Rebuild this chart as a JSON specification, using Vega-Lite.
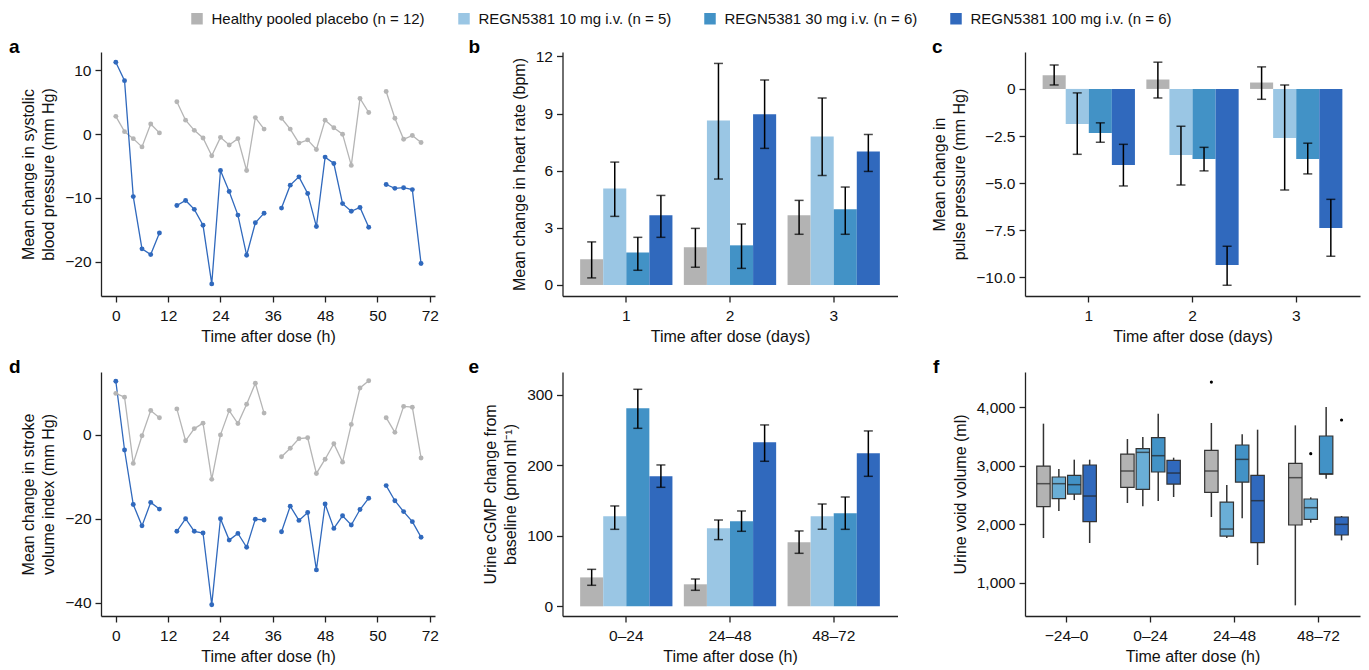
{
"$schema":"https://vega.github.io/schema/vega-lite/v6.json",
"padding":{"left":9,"top":11,"right":4,"bottom":4},
"config":{
 "font":"Liberation Sans",
 "view":{"stroke":null},
 "axis":{"grid":false,"domainColor":"#222","domainWidth":1.3,"tickColor":"#222","tickWidth":1.3,"tickSize":6,"labelFontSize":15.5,"labelColor":"#111","labelPadding":4,"titleFontSize":16,"titleFontWeight":"normal","titleColor":"#111","titlePadding":8,"titleLineHeight":20,"labelFont":"Liberation Sans","titleFont":"Liberation Sans"},
 "axisX":{"labelAngle":0,"titlePadding":4.5,"labelPadding":6.5},
 "title":{"fontSize":19,"fontWeight":"bold","anchor":"start","frame":"group","offset":0,"baseline":"alphabetic","color":"#000","font":"Liberation Sans"}
},
"datasets":{
 "sbp":[
  {"t":0,"v":2.8,"g":"placebo","s":1},{"t":2,"v":0.4,"g":"placebo","s":1},{"t":4,"v":-0.7,"g":"placebo","s":1},{"t":6,"v":-2.0,"g":"placebo","s":1},{"t":8,"v":1.6,"g":"placebo","s":1},{"t":10,"v":0.2,"g":"placebo","s":1},
  {"t":14,"v":5.1,"g":"placebo","s":2},{"t":16,"v":2.2,"g":"placebo","s":2},{"t":18,"v":0.6,"g":"placebo","s":2},{"t":20,"v":-0.6,"g":"placebo","s":2},{"t":22,"v":-3.4,"g":"placebo","s":2},{"t":24,"v":-0.5,"g":"placebo","s":2},{"t":26,"v":-1.7,"g":"placebo","s":2},{"t":28,"v":-0.7,"g":"placebo","s":2},{"t":30,"v":-5.7,"g":"placebo","s":2},{"t":32,"v":2.6,"g":"placebo","s":2},{"t":34,"v":0.8,"g":"placebo","s":2},
  {"t":38,"v":2.5,"g":"placebo","s":3},{"t":40,"v":0.8,"g":"placebo","s":3},{"t":42,"v":-1.4,"g":"placebo","s":3},{"t":44,"v":-0.9,"g":"placebo","s":3},{"t":46,"v":-2.4,"g":"placebo","s":3},{"t":48,"v":2.2,"g":"placebo","s":3},{"t":50,"v":1.0,"g":"placebo","s":3},{"t":52,"v":0.0,"g":"placebo","s":3},{"t":54,"v":-4.9,"g":"placebo","s":3},{"t":56,"v":5.6,"g":"placebo","s":3},{"t":58,"v":3.4,"g":"placebo","s":3},
  {"t":62,"v":6.7,"g":"placebo","s":4},{"t":64,"v":2.5,"g":"placebo","s":4},{"t":66,"v":-0.8,"g":"placebo","s":4},{"t":68,"v":-0.2,"g":"placebo","s":4},{"t":70,"v":-1.3,"g":"placebo","s":4},
  {"t":0,"v":11.3,"g":"100 mg","s":1},{"t":2,"v":8.4,"g":"100 mg","s":1},{"t":4,"v":-9.8,"g":"100 mg","s":1},{"t":6,"v":-18.0,"g":"100 mg","s":1},{"t":8,"v":-18.9,"g":"100 mg","s":1},{"t":10,"v":-15.5,"g":"100 mg","s":1},
  {"t":14,"v":-11.2,"g":"100 mg","s":2},{"t":16,"v":-10.4,"g":"100 mg","s":2},{"t":18,"v":-11.8,"g":"100 mg","s":2},{"t":20,"v":-14.3,"g":"100 mg","s":2},{"t":22,"v":-23.5,"g":"100 mg","s":2},{"t":24,"v":-5.7,"g":"100 mg","s":2},{"t":26,"v":-9.0,"g":"100 mg","s":2},{"t":28,"v":-12.7,"g":"100 mg","s":2},{"t":30,"v":-19.0,"g":"100 mg","s":2},{"t":32,"v":-13.9,"g":"100 mg","s":2},{"t":34,"v":-12.4,"g":"100 mg","s":2},
  {"t":38,"v":-11.6,"g":"100 mg","s":3},{"t":40,"v":-8.0,"g":"100 mg","s":3},{"t":42,"v":-6.7,"g":"100 mg","s":3},{"t":44,"v":-9.3,"g":"100 mg","s":3},{"t":46,"v":-14.5,"g":"100 mg","s":3},{"t":48,"v":-3.6,"g":"100 mg","s":3},{"t":50,"v":-4.6,"g":"100 mg","s":3},{"t":52,"v":-10.9,"g":"100 mg","s":3},{"t":54,"v":-12.1,"g":"100 mg","s":3},{"t":56,"v":-11.5,"g":"100 mg","s":3},{"t":58,"v":-14.6,"g":"100 mg","s":3},
  {"t":62,"v":-7.9,"g":"100 mg","s":4},{"t":64,"v":-8.5,"g":"100 mg","s":4},{"t":66,"v":-8.4,"g":"100 mg","s":4},{"t":68,"v":-8.7,"g":"100 mg","s":4},{"t":70,"v":-20.3,"g":"100 mg","s":4}
 ],
 "svi":[
  {"t":0,"v":9.9,"g":"placebo","s":1},{"t":2,"v":9.0,"g":"placebo","s":1},{"t":4,"v":-6.8,"g":"placebo","s":1},{"t":6,"v":-0.2,"g":"placebo","s":1},{"t":8,"v":5.8,"g":"placebo","s":1},{"t":10,"v":4.1,"g":"placebo","s":1},
  {"t":14,"v":6.2,"g":"placebo","s":2},{"t":16,"v":-1.4,"g":"placebo","s":2},{"t":18,"v":1.5,"g":"placebo","s":2},{"t":20,"v":2.8,"g":"placebo","s":2},{"t":22,"v":-10.6,"g":"placebo","s":2},{"t":24,"v":0.0,"g":"placebo","s":2},{"t":26,"v":5.8,"g":"placebo","s":2},{"t":28,"v":2.7,"g":"placebo","s":2},{"t":30,"v":7.3,"g":"placebo","s":2},{"t":32,"v":12.3,"g":"placebo","s":2},{"t":34,"v":5.2,"g":"placebo","s":2},
  {"t":38,"v":-5.2,"g":"placebo","s":3},{"t":40,"v":-3.2,"g":"placebo","s":3},{"t":42,"v":-0.9,"g":"placebo","s":3},{"t":44,"v":-0.7,"g":"placebo","s":3},{"t":46,"v":-9.2,"g":"placebo","s":3},{"t":48,"v":-5.8,"g":"placebo","s":3},{"t":50,"v":-2.1,"g":"placebo","s":3},{"t":52,"v":-6.5,"g":"placebo","s":3},{"t":54,"v":2.5,"g":"placebo","s":3},{"t":56,"v":11.2,"g":"placebo","s":3},{"t":58,"v":12.9,"g":"placebo","s":3},
  {"t":62,"v":4.1,"g":"placebo","s":4},{"t":64,"v":0.6,"g":"placebo","s":4},{"t":66,"v":6.8,"g":"placebo","s":4},{"t":68,"v":6.6,"g":"placebo","s":4},{"t":70,"v":-5.5,"g":"placebo","s":4},
  {"t":0,"v":12.8,"g":"100 mg","s":1},{"t":2,"v":-3.6,"g":"100 mg","s":1},{"t":4,"v":-16.6,"g":"100 mg","s":1},{"t":6,"v":-21.7,"g":"100 mg","s":1},{"t":8,"v":-16.1,"g":"100 mg","s":1},{"t":10,"v":-17.7,"g":"100 mg","s":1},
  {"t":14,"v":-23.0,"g":"100 mg","s":2},{"t":16,"v":-20.0,"g":"100 mg","s":2},{"t":18,"v":-23.0,"g":"100 mg","s":2},{"t":20,"v":-23.4,"g":"100 mg","s":2},{"t":22,"v":-40.5,"g":"100 mg","s":2},{"t":24,"v":-20.0,"g":"100 mg","s":2},{"t":26,"v":-25.1,"g":"100 mg","s":2},{"t":28,"v":-23.5,"g":"100 mg","s":2},{"t":30,"v":-26.8,"g":"100 mg","s":2},{"t":32,"v":-20.1,"g":"100 mg","s":2},{"t":34,"v":-20.3,"g":"100 mg","s":2},
  {"t":38,"v":-23.1,"g":"100 mg","s":3},{"t":40,"v":-17.0,"g":"100 mg","s":3},{"t":42,"v":-20.4,"g":"100 mg","s":3},{"t":44,"v":-18.5,"g":"100 mg","s":3},{"t":46,"v":-32.2,"g":"100 mg","s":3},{"t":48,"v":-16.5,"g":"100 mg","s":3},{"t":50,"v":-22.3,"g":"100 mg","s":3},{"t":52,"v":-19.3,"g":"100 mg","s":3},{"t":54,"v":-21.5,"g":"100 mg","s":3},{"t":56,"v":-17.8,"g":"100 mg","s":3},{"t":58,"v":-15.1,"g":"100 mg","s":3},
  {"t":62,"v":-12.1,"g":"100 mg","s":4},{"t":64,"v":-15.7,"g":"100 mg","s":4},{"t":66,"v":-18.3,"g":"100 mg","s":4},{"t":68,"v":-20.7,"g":"100 mg","s":4},{"t":70,"v":-24.4,"g":"100 mg","s":4}
 ],
 "hr":[
  {"day":1,"g":"Healthy pooled placebo (n = 12)","m":1.35,"lo":0.37,"hi":2.26},
  {"day":1,"g":"REGN5381 10 mg i.v. (n = 5)","m":5.07,"lo":3.6,"hi":6.45},
  {"day":1,"g":"REGN5381 30 mg i.v. (n = 6)","m":1.71,"lo":0.77,"hi":2.5},
  {"day":1,"g":"REGN5381 100 mg i.v. (n = 6)","m":3.66,"lo":2.5,"hi":4.7},
  {"day":2,"g":"Healthy pooled placebo (n = 12)","m":1.98,"lo":0.93,"hi":2.97},
  {"day":2,"g":"REGN5381 10 mg i.v. (n = 5)","m":8.64,"lo":5.56,"hi":11.63},
  {"day":2,"g":"REGN5381 30 mg i.v. (n = 6)","m":2.08,"lo":0.87,"hi":3.2},
  {"day":2,"g":"REGN5381 100 mg i.v. (n = 6)","m":8.96,"lo":7.17,"hi":10.76},
  {"day":3,"g":"Healthy pooled placebo (n = 12)","m":3.66,"lo":2.66,"hi":4.44},
  {"day":3,"g":"REGN5381 10 mg i.v. (n = 5)","m":7.8,"lo":5.75,"hi":9.81},
  {"day":3,"g":"REGN5381 30 mg i.v. (n = 6)","m":3.97,"lo":2.66,"hi":5.14},
  {"day":3,"g":"REGN5381 100 mg i.v. (n = 6)","m":7.01,"lo":5.96,"hi":7.9}
 ],
 "pp":[
  {"day":1,"g":"Healthy pooled placebo (n = 12)","m":0.73,"lo":0.21,"hi":1.27},
  {"day":1,"g":"REGN5381 10 mg i.v. (n = 5)","m":-1.86,"lo":-3.47,"hi":-0.21},
  {"day":1,"g":"REGN5381 30 mg i.v. (n = 6)","m":-2.34,"lo":-2.83,"hi":-1.8},
  {"day":1,"g":"REGN5381 100 mg i.v. (n = 6)","m":-4.04,"lo":-5.15,"hi":-2.94},
  {"day":2,"g":"Healthy pooled placebo (n = 12)","m":0.5,"lo":-0.48,"hi":1.42},
  {"day":2,"g":"REGN5381 10 mg i.v. (n = 5)","m":-3.5,"lo":-5.1,"hi":-1.98},
  {"day":2,"g":"REGN5381 30 mg i.v. (n = 6)","m":-3.72,"lo":-4.35,"hi":-3.1},
  {"day":2,"g":"REGN5381 100 mg i.v. (n = 6)","m":-9.35,"lo":-10.42,"hi":-8.35},
  {"day":3,"g":"Healthy pooled placebo (n = 12)","m":0.34,"lo":-0.55,"hi":1.17},
  {"day":3,"g":"REGN5381 10 mg i.v. (n = 5)","m":-2.6,"lo":-5.36,"hi":0.21},
  {"day":3,"g":"REGN5381 30 mg i.v. (n = 6)","m":-3.72,"lo":-4.51,"hi":-2.88},
  {"day":3,"g":"REGN5381 100 mg i.v. (n = 6)","m":-7.38,"lo":-8.88,"hi":-5.86}
 ],
 "cgmp":[
  {"p":"0–24","g":"Healthy pooled placebo (n = 12)","m":41,"lo":29.8,"hi":52.4},
  {"p":"0–24","g":"REGN5381 10 mg i.v. (n = 5)","m":127.5,"lo":109.1,"hi":142.2},
  {"p":"0–24","g":"REGN5381 30 mg i.v. (n = 6)","m":280.6,"lo":252.2,"hi":307.5},
  {"p":"0–24","g":"REGN5381 100 mg i.v. (n = 6)","m":184.2,"lo":168.6,"hi":200.3},
  {"p":"24–48","g":"Healthy pooled placebo (n = 12)","m":31.2,"lo":22.7,"hi":38.7},
  {"p":"24–48","g":"REGN5381 10 mg i.v. (n = 5)","m":110.5,"lo":94.5,"hi":122.3},
  {"p":"24–48","g":"REGN5381 30 mg i.v. (n = 6)","m":120.5,"lo":106.3,"hi":135.1},
  {"p":"24–48","g":"REGN5381 100 mg i.v. (n = 6)","m":232.4,"lo":205.5,"hi":257},
  {"p":"48–72","g":"Healthy pooled placebo (n = 12)","m":90.7,"lo":75.1,"hi":106.8},
  {"p":"48–72","g":"REGN5381 10 mg i.v. (n = 5)","m":127.5,"lo":109.1,"hi":145},
  {"p":"48–72","g":"REGN5381 30 mg i.v. (n = 6)","m":131.8,"lo":109.1,"hi":154.9},
  {"p":"48–72","g":"REGN5381 100 mg i.v. (n = 6)","m":216.8,"lo":184.2,"hi":248.5}
 ],
 "urine":[
  {"p":"−24–0","g":"Healthy pooled placebo (n = 12)","lo":1764,"q1":2300,"md":2694,"q3":2996,"hi":3721,"out":null},
  {"p":"−24–0","g":"REGN5381 10 mg i.v. (n = 5)","lo":2226,"q1":2437,"md":2694,"q3":2808,"hi":2945,"out":null},
  {"p":"−24–0","g":"REGN5381 30 mg i.v. (n = 6)","lo":2414,"q1":2517,"md":2677,"q3":2837,"hi":3105,"out":null},
  {"p":"−24–0","g":"REGN5381 100 mg i.v. (n = 6)","lo":1679,"q1":2044,"md":2483,"q3":3014,"hi":3105,"out":null},
  {"p":"0–24","g":"Healthy pooled placebo (n = 12)","lo":2363,"q1":2631,"md":2911,"q3":3201,"hi":3458,"out":null},
  {"p":"0–24","g":"REGN5381 10 mg i.v. (n = 5)","lo":2306,"q1":2597,"md":3230,"q3":3293,"hi":3492,"out":null},
  {"p":"0–24","g":"REGN5381 30 mg i.v. (n = 6)","lo":2397,"q1":2894,"md":3173,"q3":3481,"hi":3892,"out":null},
  {"p":"0–24","g":"REGN5381 100 mg i.v. (n = 6)","lo":2466,"q1":2688,"md":2876,"q3":3093,"hi":3139,"out":null},
  {"p":"24–48","g":"Healthy pooled placebo (n = 12)","lo":2124,"q1":2546,"md":2911,"q3":3264,"hi":3732,"out":4433},
  {"p":"24–48","g":"REGN5381 10 mg i.v. (n = 5)","lo":1764,"q1":1798,"md":1918,"q3":2380,"hi":2671,"out":null},
  {"p":"24–48","g":"REGN5381 30 mg i.v. (n = 6)","lo":2101,"q1":2722,"md":3110,"q3":3356,"hi":3538,"out":null},
  {"p":"24–48","g":"REGN5381 100 mg i.v. (n = 6)","lo":1302,"q1":1684,"md":2403,"q3":2837,"hi":3618,"out":null},
  {"p":"48–72","g":"Healthy pooled placebo (n = 12)","lo":612,"q1":1987,"md":2797,"q3":3042,"hi":3692,"out":null},
  {"p":"48–72","g":"REGN5381 10 mg i.v. (n = 5)","lo":2027,"q1":2084,"md":2283,"q3":2432,"hi":2460,"out":3207},
  {"p":"48–72","g":"REGN5381 30 mg i.v. (n = 6)","lo":2779,"q1":2859,"md":2862,"q3":3510,"hi":4006,"out":null},
  {"p":"48–72","g":"REGN5381 100 mg i.v. (n = 6)","lo":1724,"q1":1816,"md":1998,"q3":2124,"hi":2141,"out":3783}
 ]
},
"columns":3,
"spacing":{"row":76,"column":127.5},
"bounds":"flush",
"resolve":{"scale":{"color":"independent","xOffset":"independent"},"legend":{"color":"independent"}},
"concat":[
   {"width":334,"height":244,"title":{"text":"a","dx":-92,"dy":9},"data":{"name":"sbp"},
    "encoding":{
     "x":{"field":"t","type":"quantitative","scale":{"domain":[-3.4,73.2],"nice":false,"zero":false},"axis":{"values":[0,12,24,36,48,60,72],"labelExpr":"datum.value==60?'50':datum.label","title":"Time after dose (h)"}},
     "y":{"field":"v","type":"quantitative","scale":{"domain":[-25.4,12.9],"nice":false,"zero":false},"axis":{"values":[-20,-10,0,10],"title":["Mean change in systolic","blood pressure (mm Hg)"]}},
     "color":{"field":"g","type":"nominal","scale":{"domain":["placebo","100 mg"],"range":["#b5b5b5","#3069bd"]},"legend":null}},
    "layer":[
     {"mark":{"type":"line","strokeWidth":1.3},"encoding":{"detail":{"field":"s","type":"nominal"}}},
     {"mark":{"type":"circle","size":24,"opacity":1}}
    ]},
   {"width":335,"height":244,"title":{"text":"b","dx":-94,"dy":50},"data":{"name":"hr"},
    "encoding":{
     "x":{"field":"day","type":"ordinal","scale":{"type":"band","paddingInner":0.11,"paddingOuter":0.17},"axis":{"title":"Time after dose (days)"}},
     "xOffset":{"field":"g","type":"nominal","scale":{"type":"band","domain":["Healthy pooled placebo (n = 12)","REGN5381 10 mg i.v. (n = 5)","REGN5381 30 mg i.v. (n = 6)","REGN5381 100 mg i.v. (n = 6)"],"paddingInner":0,"paddingOuter":0}}},
    "layer":[
     {"mark":{"type":"bar"},"encoding":{
       "y":{"field":"m","type":"quantitative","scale":{"domain":[-0.58,12.23],"nice":false,"zero":false},"axis":{"values":[0,3,6,9,12],"title":"Mean change in heart rate (bpm)"}},
       "color":{"field":"g","type":"nominal","scale":{"domain":["Healthy pooled placebo (n = 12)","REGN5381 10 mg i.v. (n = 5)","REGN5381 30 mg i.v. (n = 6)","REGN5381 100 mg i.v. (n = 6)"],"range":["#b3b3b3","#9ac6e4","#4292c6","#3069bd"]},
        "legend":{"orient":"none","legendX":-373,"legendY":-41,"direction":"horizontal","title":null,"symbolType":"square","symbolSize":132,"symbolStrokeWidth":0,"labelFontSize":15,"labelFont":"Liberation Sans","labelColor":"#111","columnPadding":31,"labelOffset":7,"labelLimit":400}}}},
     {"mark":{"type":"rule","color":"#000","strokeWidth":1.5},"encoding":{"y":{"field":"lo","type":"quantitative"},"y2":{"field":"hi"}}},
     {"mark":{"type":"tick","color":"#000","thickness":1.5,"size":9},"encoding":{"y":{"field":"lo","type":"quantitative"}}},
     {"mark":{"type":"tick","color":"#000","thickness":1.5,"size":9},"encoding":{"y":{"field":"hi","type":"quantitative"}}}
    ]},
   {"width":335,"height":244,"title":{"text":"c","dx":-93,"dy":9},"data":{"name":"pp"},
    "encoding":{
     "x":{"field":"day","type":"ordinal","scale":{"type":"band","paddingInner":0.11,"paddingOuter":0.17},"axis":{"title":"Time after dose (days)"}},
     "xOffset":{"field":"g","type":"nominal","scale":{"type":"band","domain":["Healthy pooled placebo (n = 12)","REGN5381 10 mg i.v. (n = 5)","REGN5381 30 mg i.v. (n = 6)","REGN5381 100 mg i.v. (n = 6)"],"paddingInner":0,"paddingOuter":0}}},
    "layer":[
     {"mark":{"type":"bar"},"encoding":{
       "y":{"field":"m","type":"quantitative","scale":{"domain":[-10.99,1.96],"nice":false,"zero":false},"axis":{"values":[-10,-7.5,-5,-2.5,0],"labelExpr":"datum.value==0?'0':format(datum.value,'.1f')","title":["Mean change in","pulse pressure (mm Hg)"]}},
       "color":{"field":"g","type":"nominal","scale":{"domain":["Healthy pooled placebo (n = 12)","REGN5381 10 mg i.v. (n = 5)","REGN5381 30 mg i.v. (n = 6)","REGN5381 100 mg i.v. (n = 6)"],"range":["#b3b3b3","#9ac6e4","#4292c6","#3069bd"]},"legend":null}}},
     {"mark":{"type":"rule","color":"#000","strokeWidth":1.5},"encoding":{"y":{"field":"lo","type":"quantitative"},"y2":{"field":"hi"}}},
     {"mark":{"type":"tick","color":"#000","thickness":1.5,"size":9},"encoding":{"y":{"field":"lo","type":"quantitative"}}},
     {"mark":{"type":"tick","color":"#000","thickness":1.5,"size":9},"encoding":{"y":{"field":"hi","type":"quantitative"}}}
    ]},
   {"width":334,"height":244,"title":{"text":"d","dx":-92,"dy":9},"data":{"name":"svi"},
    "encoding":{
     "x":{"field":"t","type":"quantitative","scale":{"domain":[-3.4,73.2],"nice":false,"zero":false},"axis":{"values":[0,12,24,36,48,60,72],"labelExpr":"datum.value==60?'50':datum.label","title":"Time after dose (h)"}},
     "y":{"field":"v","type":"quantitative","scale":{"domain":[-43.2,15.0],"nice":false,"zero":false},"axis":{"values":[-40,-20,0],"title":["Mean change in stroke","volume index (mm Hg)"]}},
     "color":{"field":"g","type":"nominal","scale":{"domain":["placebo","100 mg"],"range":["#b5b5b5","#3069bd"]},"legend":null}},
    "layer":[
     {"mark":{"type":"line","strokeWidth":1.3},"encoding":{"detail":{"field":"s","type":"nominal"}}},
     {"mark":{"type":"circle","size":24,"opacity":1}}
    ]},
   {"width":335,"height":244,"title":{"text":"e","dx":-94,"dy":9},"data":{"name":"cgmp"},
    "encoding":{
     "x":{"field":"p","type":"ordinal","sort":["0–24","24–48","48–72"],"scale":{"type":"band","paddingInner":0.11,"paddingOuter":0.17},"axis":{"title":"Time after dose (h)"}},
     "xOffset":{"field":"g","type":"nominal","scale":{"type":"band","domain":["Healthy pooled placebo (n = 12)","REGN5381 10 mg i.v. (n = 5)","REGN5381 30 mg i.v. (n = 6)","REGN5381 100 mg i.v. (n = 6)"],"paddingInner":0,"paddingOuter":0}}},
    "layer":[
     {"mark":{"type":"bar"},"encoding":{
       "y":{"field":"m","type":"quantitative","scale":{"domain":[-13.7,332],"nice":false,"zero":false},"axis":{"values":[0,100,200,300],"title":["Urine cGMP change from","baseline (pmol ml⁻¹)"]}},
       "color":{"field":"g","type":"nominal","scale":{"domain":["Healthy pooled placebo (n = 12)","REGN5381 10 mg i.v. (n = 5)","REGN5381 30 mg i.v. (n = 6)","REGN5381 100 mg i.v. (n = 6)"],"range":["#b3b3b3","#9ac6e4","#4292c6","#3069bd"]},"legend":null}}},
     {"mark":{"type":"rule","color":"#000","strokeWidth":1.5},"encoding":{"y":{"field":"lo","type":"quantitative"},"y2":{"field":"hi"}}},
     {"mark":{"type":"tick","color":"#000","thickness":1.5,"size":9},"encoding":{"y":{"field":"lo","type":"quantitative"}}},
     {"mark":{"type":"tick","color":"#000","thickness":1.5,"size":9},"encoding":{"y":{"field":"hi","type":"quantitative"}}}
    ]},
   {"width":335,"height":244,"title":{"text":"f","dx":-92,"dy":9},"data":{"name":"urine"},
    "encoding":{
     "x":{"field":"p","type":"ordinal","sort":["−24–0","0–24","24–48","48–72"],"scale":{"type":"band","paddingInner":0.29,"paddingOuter":0.14},"axis":{"title":"Time after dose (h)"}},
     "xOffset":{"field":"g","type":"nominal","scale":{"type":"band","domain":["Healthy pooled placebo (n = 12)","REGN5381 10 mg i.v. (n = 5)","REGN5381 30 mg i.v. (n = 6)","REGN5381 100 mg i.v. (n = 6)"],"paddingInner":0.13,"paddingOuter":0}}},
    "layer":[
     {"mark":{"type":"rule","color":"#333","strokeWidth":1.5},"encoding":{
       "y":{"field":"lo","type":"quantitative","scale":{"domain":[430,4605],"nice":false,"zero":false},"axis":{"values":[1000,2000,3000,4000],"labelExpr":"format(datum.value,',')","title":"Urine void volume (ml)"}},
       "y2":{"field":"hi"}}},
     {"mark":{"type":"bar","stroke":"#333","strokeWidth":1.2},"encoding":{
       "y":{"field":"q1","type":"quantitative"},"y2":{"field":"q3"},
       "color":{"field":"g","type":"nominal","scale":{"domain":["Healthy pooled placebo (n = 12)","REGN5381 10 mg i.v. (n = 5)","REGN5381 30 mg i.v. (n = 6)","REGN5381 100 mg i.v. (n = 6)"],"range":["#b3b3b3","#6aaed6","#4292c6","#3069bd"]},"legend":null}}},
     {"mark":{"type":"tick","color":"#222","thickness":1.5,"size":13},"encoding":{"y":{"field":"md","type":"quantitative"}}},
     {"mark":{"type":"circle","color":"#000","size":10,"opacity":1},"encoding":{"y":{"field":"out","type":"quantitative"}}}
    ]}
]
}
